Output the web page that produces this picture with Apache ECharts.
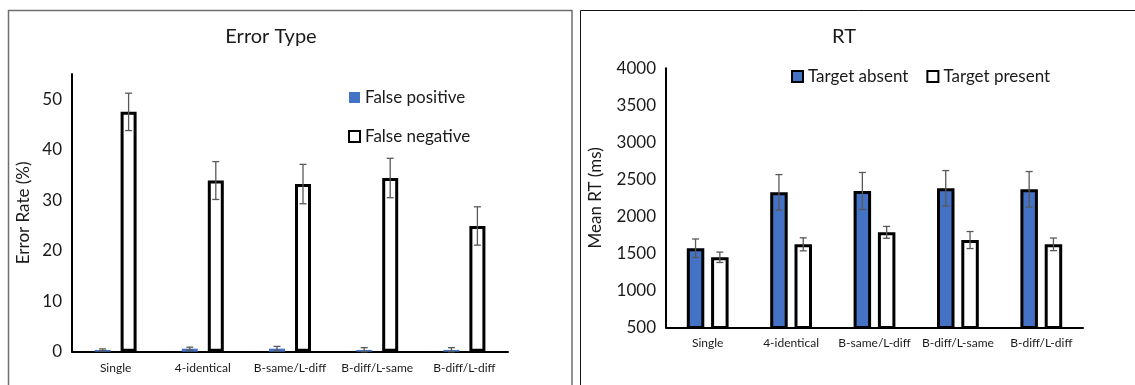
<!DOCTYPE html>
<html><head><meta charset="utf-8">
<script src="https://cdn.jsdelivr.net/npm/echarts@6/dist/echarts.min.js"></script>
<style>html,body{margin:0;padding:0;background:#fff}#c{width:1135px;height:385px}</style>
</head><body><div id="c"></div>
<script>
const categories = ['Single','4-identical','B-same/L-diff','B-diff/L-same','B-diff/L-diff'];
const falsePositive = [0.35,0.6,0.6,0.35,0.35];
const falsePositiveErr = [0.2,0.3,0.45,0.45,0.45];
const falseNegative = [47.5,33.9,33.2,34.4,24.9];
const falseNegativeErr = [3.7,3.75,3.9,3.9,3.8];
const rtAbsent = [1570,2325,2343,2379,2366];
const rtAbsentErr = [125,240,250,240,240];
const rtPresent = [1448,1623,1785,1681,1623];
const rtPresentErr = [70,88,80,115,85];
const errorYTicks = {min:0,max:55,interval:10};
const rtYTicks = {min:500,max:4000,interval:500};

const FONT = 'Lato';
const BLUE = '#4472C4';
const TXT = '#1a1a1a';
const L_BW = 16, L_GAP = 10;
const R_BW = 17.5, R_GAP = 6.8;

function errData(vals, errs){ return vals.map((v,i)=>[i, v, errs[i]]); }
function errRender(offset, minV){
  return function(params, api){
    const i = api.value(0), v = api.value(1), e = api.value(2);
    const hi = api.coord([i, v+e]);
    const lo = api.coord([i, Math.max(minV, v-e)]);
    const x = hi[0] + offset;
    const cap = 3.5;
    const style = {stroke:'#595959', lineWidth:1.3, fill:null};
    return {type:'group', children:[
      {type:'line', shape:{x1:x,y1:hi[1],x2:x,y2:lo[1]}, style},
      {type:'line', shape:{x1:x-cap,y1:hi[1],x2:x+cap,y2:hi[1]}, style},
      {type:'line', shape:{x1:x-cap,y1:lo[1],x2:x+cap,y2:lo[1]}, style}
    ]};
  };
}

const axisLabelX = {color:TXT, fontFamily:FONT, fontSize:12, margin:10, interval:0};
const axisLabelY = {color:TXT, fontFamily:FONT, fontSize:17, margin:10, formatter:function(v){return String(v);}};

const chart = echarts.init(document.getElementById('c'), null, {renderer:'canvas'});
chart.setOption({
  animation:false,
  backgroundColor:'#fff',
  textStyle:{fontFamily:FONT},
  title:[
    {text:'Error Type', left:266, top:22, textAlign:'center', textStyle:{fontFamily:FONT,fontSize:20,fontWeight:'normal',color:TXT}},
    {text:'RT', left:839, top:22, textAlign:'center', textStyle:{fontFamily:FONT,fontSize:20,fontWeight:'normal',color:TXT}}
  ],
  legend:[
    {orient:'vertical', left:348, top:89, padding:0, itemWidth:11, itemHeight:11, itemGap:22, icon:'rect',
     textStyle:{fontFamily:FONT,fontSize:17,color:TXT}, data:['False positive','False negative']},
    {orient:'horizontal', left:791, top:68, padding:0, itemWidth:11, itemHeight:11, itemGap:18, icon:'rect',
     textStyle:{fontFamily:FONT,fontSize:17,color:TXT}, data:['Target absent','Target present']}
  ],
  grid:[
    {left:72, top:74, width:436, height:277.7, containLabel:false},
    {left:666, top:68.3, width:417, height:259.2, containLabel:false}
  ],
  xAxis:[
    {type:'category', gridIndex:0, data:categories, axisTick:{show:false},
     axisLine:{lineStyle:{color:'#000',width:2}}, axisLabel:axisLabelX},
    {type:'category', gridIndex:1, data:categories, axisTick:{show:false},
     axisLine:{lineStyle:{color:'#000',width:2}}, axisLabel:axisLabelX}
  ],
  yAxis:[
    {type:'value', gridIndex:0, min:errorYTicks.min, max:errorYTicks.max, interval:errorYTicks.interval,
     name:'Error Rate (%)', nameLocation:'middle', nameGap:40,
     nameTextStyle:{fontFamily:FONT,fontSize:17,color:TXT},
     axisLine:{show:true,lineStyle:{color:'#000',width:2}}, axisTick:{show:false}, splitLine:{show:false},
     axisLabel:Object.assign({showMaxLabel:false}, axisLabelY)},
    {type:'value', gridIndex:1, min:rtYTicks.min, max:rtYTicks.max, interval:rtYTicks.interval,
     name:'Mean RT (ms)', nameLocation:'middle', nameGap:62,
     nameTextStyle:{fontFamily:FONT,fontSize:17,color:TXT},
     axisLine:{show:true,lineStyle:{color:'#000',width:2}}, axisTick:{show:false}, splitLine:{show:false},
     axisLabel:axisLabelY}
  ],
  series:[
    {name:'False positive', type:'bar', xAxisIndex:0, yAxisIndex:0, data:falsePositive, barWidth:L_BW, barGap:(L_GAP/L_BW*100)+'%',
     itemStyle:{color:BLUE, borderColor:BLUE, borderWidth:0}},
    {name:'False negative', type:'bar', xAxisIndex:0, yAxisIndex:0, data:falseNegative, barWidth:L_BW, barGap:(L_GAP/L_BW*100)+'%',
     itemStyle:{color:'#fff', borderColor:'#000', borderWidth:3}},
    {type:'custom', xAxisIndex:0, yAxisIndex:0, data:errData(falsePositive,falsePositiveErr), renderItem:errRender(-(L_BW+L_GAP)/2, 0), z:10, encode:{x:0,y:1}},
    {type:'custom', xAxisIndex:0, yAxisIndex:0, data:errData(falseNegative,falseNegativeErr), renderItem:errRender((L_BW+L_GAP)/2, 0), z:10, encode:{x:0,y:1}},
    {name:'Target absent', type:'bar', xAxisIndex:1, yAxisIndex:1, data:rtAbsent, barWidth:R_BW, barGap:(R_GAP/R_BW*100)+'%',
     itemStyle:{color:BLUE, borderColor:'#000', borderWidth:3}},
    {name:'Target present', type:'bar', xAxisIndex:1, yAxisIndex:1, data:rtPresent, barWidth:R_BW, barGap:(R_GAP/R_BW*100)+'%',
     itemStyle:{color:'#fff', borderColor:'#000', borderWidth:3}},
    {type:'custom', xAxisIndex:1, yAxisIndex:1, data:errData(rtAbsent,rtAbsentErr), renderItem:errRender(-(R_BW+R_GAP)/2, 500), z:10, encode:{x:0,y:1}},
    {type:'custom', xAxisIndex:1, yAxisIndex:1, data:errData(rtPresent,rtPresentErr), renderItem:errRender((R_BW+R_GAP)/2, 500), z:10, encode:{x:0,y:1}}
  ],
  graphic:[
    {type:'rect', shape:{x:8.5,y:10.5,width:563.5,height:400}, style:{fill:null,stroke:'#6e6e6e',lineWidth:1.5}, silent:true, z:-1},
    {type:'rect', shape:{x:580.5,y:10.5,width:600,height:400}, style:{fill:null,stroke:'#111',lineWidth:1}, silent:true, z:-1}
  ]
});
</script></body></html>
